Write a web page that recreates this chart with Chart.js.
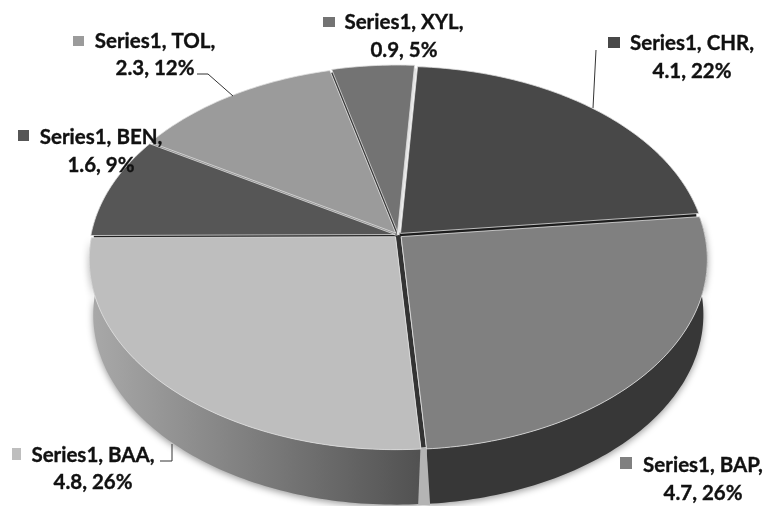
<!DOCTYPE html>
<html><head><meta charset="utf-8">
<style>html,body{margin:0;padding:0;background:#fff}canvas{display:block;filter:blur(0.4px)}</style>
<script src="https://cdn.jsdelivr.net/npm/chart.js@4/dist/chart.umd.min.js"></script>
</head><body><canvas id="c" width="766" height="506"></canvas>
<script>
const seriesName = 'Series1';
const categories = ['CHR', 'BAP', 'BAA', 'BEN', 'TOL', 'XYL'];
const values = [4.1, 4.7, 4.8, 1.6, 2.3, 0.9];
const percents = [22, 26, 26, 9, 12, 5];
const topColors = ['#484848', '#808080', '#bebebe', '#565656', '#9b9b9b', '#737373'];
const explode = [3, 3.5, 3, 3, 3, 3];
const gapColors = ['#1c1c1c', '#333333', '#222222', '#8a8a8a', '#3a3a3a', '#e4e4e4'];
const gapWidths = [5, 5, 4, 3, 3, 3];
const labelKeys = [[608, 37, 12, 11], [620, 457, 12, 12], [12, 448, 9, 12], [18, 130, 11, 11], [73, 36, 11, 10], [323, 17, 12, 10]];
const labelLine1 = [[692, 43], [703, 465], [93, 455], [101, 137], [155, 41], [404, 22]];
const labelLine2 = [[692, 71], [703, 493], [93, 482], [101, 165], [155, 68], [404, 50]];
const leaders = [[[596, 50], [593, 108]], null, [[160, 461], [172, 461], [172, 444]], null, [[197, 74], [208, 74], [233, 96]], null];

const P = {x0: 398, y0: 235, a: 304, b: 187.2, k: -0.121, depth: 55, shrink: 0.987};
function project(t) {
  const X = Math.cos(t), Y = Math.sin(t), d = 1 + P.k * Y;
  return [P.x0 + P.a * X / d, P.y0 + P.b * Y / d];
}
function rim(s, e) {
  const n = Math.max(2, Math.ceil(Math.abs(e - s) / (Math.PI / 180)));
  const out = [];
  for (let i = 0; i <= n; i++) out.push(project(s + (e - s) * i / n));
  return out;
}
function shift(i, s, e) {
  const m = project((s + e) / 2), dx = m[0] - P.x0, dy = m[1] - P.y0, l = Math.hypot(dx, dy);
  return [dx / l * explode[i], dy / l * explode[i]];
}

const pie3d = {
  id: 'pie3d',
  beforeDatasetDraw(chart, args) {
    const ctx = chart.ctx, arcs = args.meta.data;
    const bottom = p => [P.x0 + (p[0] - P.x0) * P.shrink, p[1] + P.depth];
    ctx.save();
    // side walls: only the two front-facing slices show one
    [1, 2].forEach(i => {
      const a = arcs[i], o = shift(i, a.startAngle, a.endAngle);
      const top = rim(a.startAngle, a.endAngle);
      ctx.save();
      ctx.shadowColor = 'rgba(0,0,0,0.4)'; ctx.shadowBlur = 7; ctx.shadowOffsetY = 2;
      ctx.beginPath();
      top.forEach((p, j) => { const q = [p[0] + o[0], p[1] + o[1]]; j ? ctx.lineTo(q[0], q[1]) : ctx.moveTo(q[0], q[1]); });
      top.slice().reverse().forEach(p => { const q = bottom(p); ctx.lineTo(q[0] + o[0], q[1] + o[1]); });
      ctx.closePath();
      if (i === 1) {
        ctx.fillStyle = '#373737';
      } else {
        const g = ctx.createLinearGradient(P.x0 - P.a, 0, P.x0 + 20, 0);
        g.addColorStop(0, '#a8a8a8'); g.addColorStop(1, '#525252');
        ctx.fillStyle = g;
      }
      ctx.fill();
      ctx.restore();
    });
    // light inner face between the two walls
    const seam = project(arcs[1].endAngle), seamB = bottom(seam);
    ctx.fillStyle = '#b4b4b4';
    ctx.beginPath();
    ctx.moveTo(seam[0] - 3, seam[1]); ctx.lineTo(seam[0] + 3, seam[1]);
    ctx.lineTo(seamB[0] + 7, seamB[1] + 3); ctx.lineTo(seamB[0] - 5, seamB[1] + 3);
    ctx.closePath(); ctx.fill();
    // dark / light gaps between slices
    arcs.forEach((a, i) => {
      const p = project(a.endAngle);
      ctx.strokeStyle = gapColors[i]; ctx.lineWidth = gapWidths[i];
      ctx.beginPath(); ctx.moveTo(P.x0, P.y0); ctx.lineTo(p[0], p[1]); ctx.stroke();
    });
    // top faces
    arcs.forEach((a, i) => {
      const o = shift(i, a.startAngle, a.endAngle);
      ctx.beginPath();
      ctx.moveTo(P.x0 + o[0], P.y0 + o[1]);
      rim(a.startAngle, a.endAngle).forEach(p => ctx.lineTo(p[0] + o[0], p[1] + o[1]));
      ctx.closePath();
      ctx.fillStyle = topColors[i]; ctx.fill();
      ctx.strokeStyle = '#dedede'; ctx.lineWidth = 0.8; ctx.lineJoin = 'round'; ctx.stroke();
    });
    ctx.restore();
    return false;
  },
  afterDatasetsDraw(chart) {
    const ctx = chart.ctx;
    ctx.save();
    ctx.strokeStyle = '#333'; ctx.lineWidth = 1;
    leaders.forEach(l => {
      if (!l) return;
      ctx.beginPath();
      l.forEach((p, j) => j ? ctx.lineTo(p[0], p[1]) : ctx.moveTo(p[0], p[1]));
      ctx.stroke();
    });
    ctx.font = 'bold 20.5px Lato, "Liberation Sans", sans-serif';
    ctx.fillStyle = '#111'; ctx.textAlign = 'center'; ctx.textBaseline = 'middle';
    categories.forEach((c, i) => {
      const k = labelKeys[i];
      ctx.fillStyle = topColors[i]; ctx.fillRect(k[0], k[1], k[2], k[3]);
      ctx.fillStyle = '#111'; ctx.strokeStyle = '#111'; ctx.lineWidth = 0.35;
      const t1 = seriesName + ', ' + c + ',', t2 = values[i] + ', ' + percents[i] + '%';
      ctx.fillText(t1, labelLine1[i][0], labelLine1[i][1]);
      ctx.strokeText(t1, labelLine1[i][0], labelLine1[i][1]);
      ctx.fillText(t2, labelLine2[i][0], labelLine2[i][1]);
      ctx.strokeText(t2, labelLine2[i][0], labelLine2[i][1]);
    });
    ctx.restore();
  }
};

new Chart(document.getElementById('c'), {
  type: 'pie',
  data: {labels: categories, datasets: [{label: seriesName, data: values, backgroundColor: topColors}]},
  options: {
    responsive: false, animation: false, rotation: 3.6,
    plugins: {legend: {display: false}, tooltip: {enabled: false}, title: {display: false}}
  },
  plugins: [pie3d]
});
</script></body></html>
